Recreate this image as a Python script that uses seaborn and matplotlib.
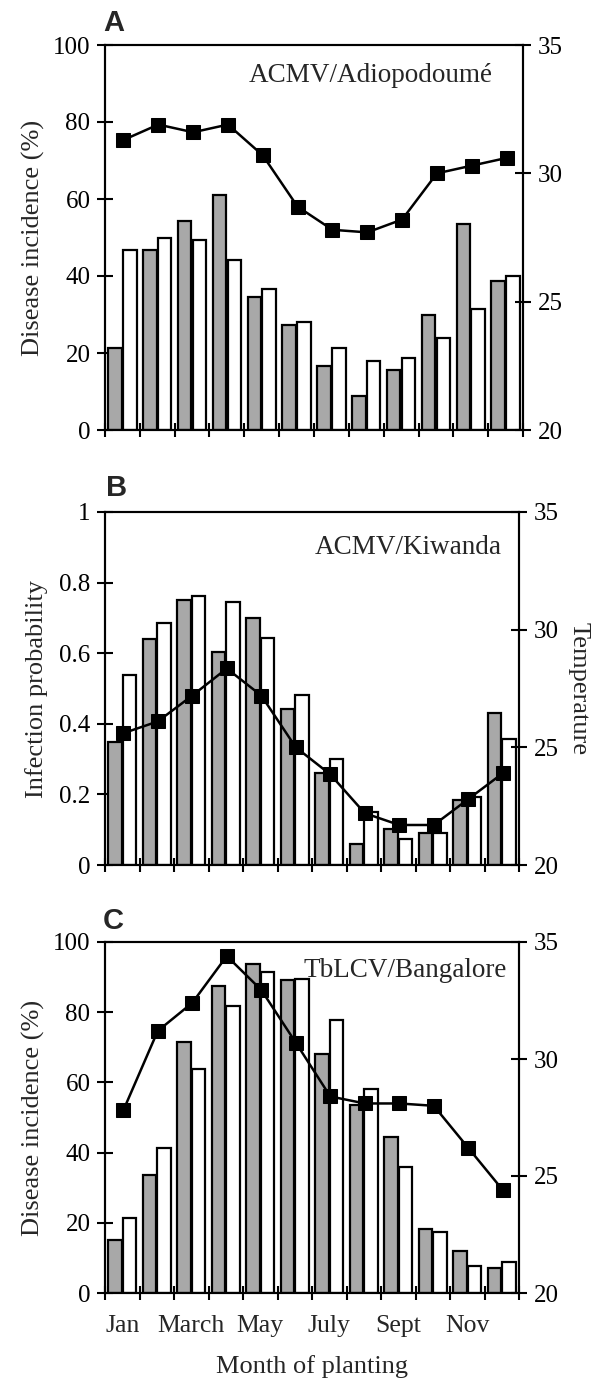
import numpy as np
import pandas as pd
import matplotlib
matplotlib.use("Agg")
import matplotlib.pyplot as plt
import seaborn as sns

# ---------------- data ----------------
months = ["Jan", "Feb", "March", "April", "May", "June",
          "July", "Aug", "Sept", "Oct", "Nov", "Dec"]
month_labels = ["Jan", "March", "May", "July", "Sept", "Nov"]

a_grey = [21.2, 46.7, 54.2, 61.1, 34.6, 27.4, 16.7, 8.8, 15.6, 30.0, 53.6, 38.6]
a_white = [46.8, 49.9, 49.3, 44.2, 36.6, 28.1, 21.3, 17.9, 18.6, 23.8, 31.5, 39.9]
a_temp = [31.3, 31.9, 31.6, 31.9, 30.7, 28.7, 27.8, 27.7, 28.2, 30.0, 30.3, 30.6]

b_grey = [0.349, 0.640, 0.750, 0.602, 0.700, 0.443, 0.261, 0.059, 0.101, 0.090, 0.184, 0.431]
b_white = [0.538, 0.686, 0.762, 0.745, 0.643, 0.481, 0.299, 0.151, 0.074, 0.090, 0.193, 0.357]
b_temp = [25.6, 26.1, 27.2, 28.35, 27.2, 25.0, 23.85, 22.2, 21.7, 21.7, 22.8, 23.9]

c_grey = [15.2, 33.7, 71.4, 87.4, 93.8, 89.1, 68.2, 53.6, 44.5, 18.3, 12.1, 7.1]
c_white = [21.3, 41.4, 63.7, 81.8, 91.5, 89.6, 77.9, 58.1, 36.0, 17.3, 7.6, 8.8]
c_temp = [27.8, 31.2, 32.4, 34.4, 32.95, 30.7, 28.4, 28.1, 28.1, 28.0, 26.2, 24.4]

left_ticks_pct = [0, 20, 40, 60, 80, 100]
left_ticks_prob = [0, 0.2, 0.4, 0.6, 0.8, 1.0]
left_ticklabels_prob = ["0", "0.2", "0.4", "0.6", "0.8", "1"]
temp_ticks = [20, 25, 30, 35]

# ---------------- style ----------------
sns.set_theme(style="ticks")
plt.rcParams["font.family"] = ["Liberation Serif", "DejaVu Serif"]
plt.rcParams["axes.linewidth"] = 1.5
plt.rcParams["axes.edgecolor"] = "black"

GREY = "#a8a8a8"
FS_TICK = 18
FS_LAB = 19
FS_NOTE = 19.5
W, H = 612, 1380
fig = plt.figure(figsize=(W / 100, H / 100), dpi=100)


def axes_px(left, right, top, bottom):
    return fig.add_axes([left / W, 1 - bottom / H, (right - left) / W, (bottom - top) / H])


def panel(ax, grey, white, temp, ylim, yticks, yticklabels, ylabel, label_x,
          note, note_xy, show_x):
    df = pd.DataFrame({
        "month": months * 2,
        "value": list(grey) + list(white),
        "series": ["grey"] * len(months) + ["white"] * len(months),
    })
    sns.barplot(data=df, x="month", y="value", hue="series", order=months,
                hue_order=["grey", "white"],
                palette={"grey": GREY, "white": "white"}, saturation=1,
                width=0.86, gap=0.1, edgecolor="black", linewidth=1.6,
                legend=False, ax=ax)
    ax.set_ylim(*ylim)
    ax.set_yticks(yticks)
    ax.set_yticklabels(yticklabels, fontsize=FS_TICK)
    ax.set_ylabel(ylabel, fontsize=FS_LAB, va="center")
    ax.yaxis.set_label_coords(label_x, 0.5)
    ax.set_xlabel("")
    ax.set_xticks(np.arange(-0.5, 12, 1))
    ax.set_xticklabels([])
    ax.set_xticks(np.arange(0, 12, 2), minor=True)
    if show_x:
        ax.set_xticklabels(month_labels, minor=True, fontsize=FS_TICK + 0.5)
    else:
        ax.set_xticklabels([], minor=True)
    ax.tick_params(axis="x", which="major", direction="inout", length=10,
                   width=1.5, color="black")
    ax.tick_params(axis="x", which="minor", length=0, pad=16)
    ax.tick_params(axis="y", direction="inout", length=11, width=1.5,
                   pad=5, color="black", labelcolor="black")
    for s in ax.spines.values():
        s.set_visible(True)
        s.set_linewidth(1.5)
        s.set_color("black")

    ax2 = ax.twinx()
    sns.lineplot(x=np.arange(12) + 0.03, y=temp, ax=ax2, color="black",
                 linewidth=1.8, marker="s", markersize=10.5,
                 markerfacecolor="black", markeredgecolor="black")
    ax2.set_ylim(20, 35)
    ax2.set_yticks(temp_ticks)
    ax2.set_yticklabels([str(t) for t in temp_ticks], fontsize=FS_TICK)
    ax2.tick_params(axis="y", direction="inout", length=11, width=1.5,
                    pad=5, color="black", labelcolor="black")
    for s in ax2.spines.values():
        s.set_linewidth(1.5)
        s.set_color("black")
    ax.set_xlim(-0.5, 11.5)
    ax2.set_xlim(-0.5, 11.5)
    ax2.text(note_xy[0], note_xy[1], note, transform=ax2.transAxes,
             ha="right", va="center", fontsize=FS_NOTE, zorder=5)
    return ax2


# Panel A
axA = axes_px(105, 523, 45, 430)
panel(axA, a_grey, a_white, a_temp, (0, 100), left_ticks_pct,
      [str(t) for t in left_ticks_pct], "Disease incidence (%)", -0.172,
      "ACMV/Adiopodoumé", (0.928, 0.922), False)

# Panel B
axB = axes_px(105, 519, 512, 865)
axB2 = panel(axB, b_grey, b_white, b_temp, (0, 1), left_ticks_prob,
             left_ticklabels_prob, "Infection probability", -0.166,
             "ACMV/Kiwanda", (0.959, 0.90), False)
axB2.set_ylabel("Temperature", fontsize=FS_LAB, rotation=270, va="center")
axB2.yaxis.set_label_coords(1.143, 0.5)

# Panel C
axC = axes_px(105, 519, 942, 1293)
panel(axC, c_grey, c_white, c_temp, (0, 100), left_ticks_pct,
      [str(t) for t in left_ticks_pct], "Disease incidence (%)", -0.172,
      "TbLCV/Bangalore", (0.971, 0.92), True)

fig.text(312 / W, 1 - 1367 / H, "Month of planting", ha="center",
         va="center", fontsize=FS_LAB)

for letter, x, y in [("A", 103, 23), ("B", 106, 488), ("C", 103, 921)]:
    fig.text(x / W, 1 - y / H, letter, ha="left", va="center", fontsize=21,
             fontweight="bold", family=["Liberation Sans", "DejaVu Sans"])

fig.savefig("out.png", dpi=100)
